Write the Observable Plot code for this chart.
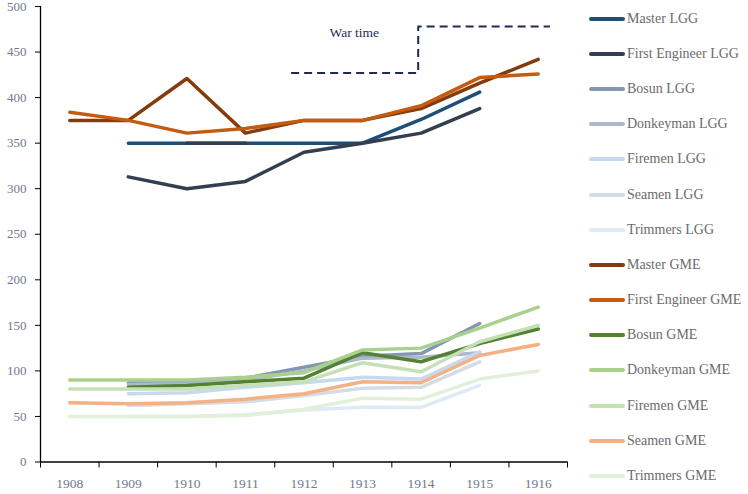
<!DOCTYPE html>
<html>
<head>
<meta charset="utf-8">
<script src="https://cdn.jsdelivr.net/npm/d3@7"></script>
<script src="https://cdn.jsdelivr.net/npm/@observablehq/plot@0.6"></script>
<style>
  html, body { margin: 0; padding: 0; background: #fff; }
  #wrap { position: relative; width: 748px; height: 494px; overflow: hidden; }
  #legend { position: absolute; left: 589px; top: 1px; font-family: "Liberation Serif", serif; font-size: 14px; color: #6b6b6b; }
  .item { display: flex; align-items: center; height: 35.2px; white-space: nowrap; }
  .sw { width: 36px; height: 4px; border-radius: 2px; margin-right: 2px; }
</style>
</head>
<body>
<div id="wrap"><div id="chart"></div><div id="legend"></div></div>
<script>
// ---- data ----
const years = [1908, 1909, 1910, 1911, 1912, 1913, 1914, 1915, 1916];
const yTicks = [0, 50, 100, 150, 200, 250, 300, 350, 400, 450, 500];

const seriesNames = [
  "Master LGG", "First Engineer LGG", "Bosun LGG", "Donkeyman LGG", "Firemen LGG", "Seamen LGG", "Trimmers LGG",
  "Master GME", "First Engineer GME", "Bosun GME", "Donkeyman GME", "Firemen GME", "Seamen GME", "Trimmers GME"
];
const seriesColors = [
  "#1f4e79", "#333f50", "#8497b0", "#adb9ca", "#c5d9f1", "#d6dce5", "#deebf7",
  "#843c0c", "#c55a11", "#548235", "#a9d18e", "#c5e0b4", "#f4b183", "#e2f0d9"
];

const masterLGG       = [null, 350, 350, 350, 350, 350, 376, 406, null];
const firstEngLGG     = [null, 313, 300, 308, 340, 350, 361, 388, null];
const firstEngLGGPart = [null, null, 350, 350, null, null, null, null, null];
const bosunLGG        = [null, 87, 88, 92, 104, 116, 119, 152, null];
const donkeymanLGG    = [null, 85, 86, 90, 100, 114, 115, 120, null];
const firemenLGG      = [null, 75, 76, 82, 87, 93, 91, 121, null];
const seamenLGG       = [null, 62, 64, 66, 73, 81, 82, 110, null];
const trimmersLGG     = [null, 50, 50, 52, 57, 60, 60, 84, null];
const masterGME       = [375, 375, 421, 361, 375, 375, 388, 416, 442];
const firstEngGME     = [384, 375, 361, 366, 375, 375, 391, 422, 426];
const bosunGME        = [null, 82, 84, 88, 92, 120, 110, 130, 146];
const donkeymanGME    = [90, 90, 90, 93, 98, 123, 125, 147, 170];
const firemenGME      = [80, 80, 80, 84, 88, 109, 99, 132, 150];
const seamenGME       = [65, 64, 65, 69, 75, 88, 87, 117, 129];
const trimmersGME     = [50, 50, 50, 51, 58, 70, 69, 91, 100];

// "War time" annotation (step line)
const warYears  = [1911.78, 1913.95, 1916.2];
const warLevels = [427, 478, 478];
const warLabel  = "War time";
const warLabelYear = 1912.86;
const warLabelLevel = 471;

// ---- build table ----
const seriesValues = [
  ["Master LGG", masterLGG],
  ["First Engineer LGG", firstEngLGG],
  ["First Engineer LGG (part)", firstEngLGGPart],
  ["Bosun LGG", bosunLGG],
  ["Donkeyman LGG", donkeymanLGG],
  ["Firemen LGG", firemenLGG],
  ["Seamen LGG", seamenLGG],
  ["Trimmers LGG", trimmersLGG],
  ["Master GME", masterGME],
  ["First Engineer GME", firstEngGME],
  ["Bosun GME", bosunGME],
  ["Donkeyman GME", donkeymanGME],
  ["Firemen GME", firemenGME],
  ["Seamen GME", seamenGME],
  ["Trimmers GME", trimmersGME]
];
const rows = [];
for (const [name, vals] of seriesValues) {
  vals.forEach((v, i) => { if (v != null) rows.push({series: name, year: years[i], value: v}); });
}
const colorDomain = [...seriesNames, "First Engineer LGG (part)"];
const colorRange = [...seriesColors, seriesColors[1]];
const warRows = warYears.map((x, i) => ({x, y: warLevels[i]}));
const boundaries = [...years.map(y => y - 0.5), years[years.length - 1] + 0.5];

const labelColor = "#717a8c";
const font = "Liberation Serif, serif";

const chart = Plot.plot({
  width: 748,
  height: 494,
  marginLeft: 40,
  marginRight: 181,
  marginTop: 6,
  marginBottom: 32.5,
  style: {fontFamily: font, background: "#fff"},
  x: {type: "linear", domain: [boundaries[0], boundaries[boundaries.length - 1]]},
  y: {domain: [0, 500]},
  color: {domain: colorDomain, range: colorRange},
  marks: [
    Plot.axisY({ticks: yTicks, tickSize: 5, tickPadding: 9, stroke: "#000", fill: labelColor, fontSize: 13, label: null, tickFormat: d3.format("d")}),
    Plot.axisX({ticks: boundaries, tickSize: 6, stroke: "#000", tickFormat: () => "", label: null}),
    Plot.axisX({ticks: years, tickSize: 0, tickPadding: 16, fill: labelColor, fontSize: 13.5, tickFormat: d3.format("d"), label: null}),
    Plot.ruleY([0], {stroke: "#000", strokeWidth: 1.3}),
    Plot.ruleX([boundaries[0]], {stroke: "#000", strokeWidth: 1.3}),
    Plot.line(rows, {x: "year", y: "value", z: "series", stroke: "series", strokeWidth: 3.5, strokeLinejoin: "round", strokeLinecap: "round"}),
    Plot.line(warRows, {x: "x", y: "y", curve: "step-after", stroke: "#1f2a5a", strokeWidth: 2, strokeDasharray: "8,5", strokeLinecap: "butt"}),
    Plot.text([warLabel], {x: () => warLabelYear, y: () => warLabelLevel, text: d => d, fill: "#1f2a5a", fontSize: 13.5, fontFamily: font})
  ]
});
document.getElementById("chart").appendChild(chart);

const legend = document.getElementById("legend");
seriesNames.forEach((name, i) => {
  const item = document.createElement("div");
  item.className = "item";
  const sw = document.createElement("div");
  sw.className = "sw";
  sw.style.background = seriesColors[i];
  const t = document.createElement("span");
  t.textContent = name;
  item.appendChild(sw);
  item.appendChild(t);
  legend.appendChild(item);
});
</script>
</body>
</html>
